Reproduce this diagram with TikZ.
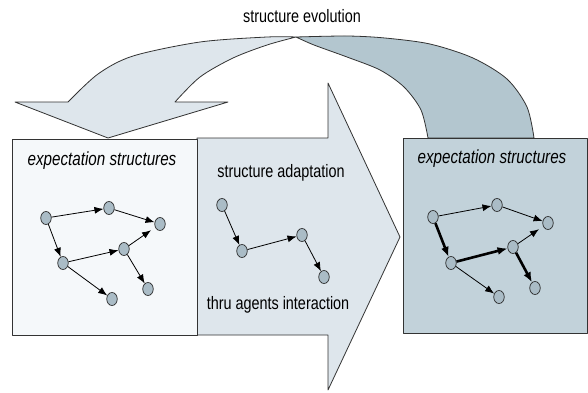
\documentclass[tikz,border=0pt]{standalone}
\usepackage{fontspec}
\setmainfont{Liberation Sans}[FakeStretch=0.8]
\usetikzlibrary{arrows.meta,shapes.geometric}
\definecolor{lightfill}{HTML}{F5F8FA}
\definecolor{midfill}{HTML}{DEE6EC}
\definecolor{darkfill}{HTML}{B3C6CF}
\definecolor{boxfill}{HTML}{C2D2DA}
\definecolor{nodefill}{HTML}{AABCC6}
\tikzset{
	shape line/.style = {draw = black!80, line width = 0.8pt, line join = round},
	graphnode/.style = {ellipse, draw = black!85, line width = 0.7pt, fill = nodefill,
		minimum width = 10.5pt, minimum height = 13pt, inner sep = 0pt},
	link/.style = {line width = 0.8pt, -{Latex[length = 9pt, width = 7pt]}},
	strong/.style = {line width = 2.6pt, -{Latex[length = 10pt, width = 8pt]}},
	txt/.style = {inner sep = 0pt, font = \fontsize{18}{21}\selectfont},
	itxt/.style = {inner sep = 0pt, font = \fontsize{19}{22}\selectfont\itshape}
}
\begin{document}
\begin{tikzpicture}[x = 1pt, y = -1pt]
	\fill[white] (0, 0) rectangle (588, 392);
	% evolution arrow, back part
	\draw[shape line, fill = darkfill]
		plot[smooth] coordinates {(296, 37) (347, 36) (385, 38) (430, 44) (473, 58) (507, 79) (527, 107) (534, 138)}
		-- plot[smooth] coordinates {(428, 138) (421, 110) (404, 87) (380, 70) (347, 57) (314, 45) (296, 37)}
		-- cycle;
	% evolution arrow, front part with head
	\draw[shape line, fill = midfill]
		plot[smooth] coordinates {(296, 37) (267, 37) (200, 42) (133, 56) (98, 74) (68, 102)}
		-- (15, 102) -- (108, 138) -- (228, 102) -- (175, 102)
		-- plot[smooth] coordinates {(175, 102) (200, 77) (233, 58) (267, 45) (296, 37)}
		-- cycle;
	% adaptation arrow
	\draw[shape line, fill = midfill] (197, 138) -- (328, 138) -- (328, 83) -- (400, 237)
		-- (328, 390) -- (328, 335) -- (197, 335) -- cycle;
	% boxes
	\draw[shape line, fill = lightfill] (12, 139) rectangle (197, 335);
	\draw[shape line, fill = boxfill] (403, 138) rectangle (587, 333);
	% texts
	\node[txt] (evo) at (302, 16) {structure evolution};
	\node[itxt] (left) at (102, 161) {expectation structures};
	\node[itxt] (right) at (492, 159) {expectation structures};
	\node[txt] (adapt) at (281, 173) {structure adaptation};
	\node[txt] (thru) at (278, 305) {thru agents interaction};
	% left structure
	\node[graphnode] (a1) at (46, 218) {};
	\node[graphnode] (b1) at (109, 208) {};
	\node[graphnode] (c1) at (160, 224) {};
	\node[graphnode] (d1) at (63, 263) {};
	\node[graphnode] (e1) at (124, 249) {};
	\node[graphnode] (f1) at (148, 289) {};
	\node[graphnode] (g1) at (112, 299) {};
	\draw[link] (a1) -- (b1);
	\draw[link] (b1) -- (c1);
	\draw[link] (a1) -- (d1);
	\draw[link] (d1) -- (e1);
	\draw[link, shorten >= 5pt] (e1) -- (c1);
	\draw[link] (e1) -- (f1);
	\draw[link] (d1) -- (g1);
	% adapted part
	\node[graphnode] (a2) at (222, 205) {};
	\node[graphnode] (d2) at (242, 251) {};
	\node[graphnode] (e2) at (302, 235) {};
	\node[graphnode] (f2) at (324, 277) {};
	\draw[link] (a2) -- (d2);
	\draw[link] (d2) -- (e2);
	\draw[link] (e2) -- (f2);
	% right structure
	\node[graphnode] (a3) at (433, 217) {};
	\node[graphnode] (b3) at (497, 205) {};
	\node[graphnode] (c3) at (548, 223) {};
	\node[graphnode] (d3) at (451, 263) {};
	\node[graphnode] (e3) at (513, 247) {};
	\node[graphnode] (f3) at (535, 288) {};
	\node[graphnode] (g3) at (499, 297) {};
	\draw[link] (a3) -- (b3);
	\draw[link] (b3) -- (c3);
	\draw[strong] (a3) -- (d3);
	\draw[strong] (d3) -- (e3);
	\draw[link, shorten >= 5pt] (e3) -- (c3);
	\draw[strong] (e3) -- (f3);
	\draw[link] (d3) -- (g3);
\end{tikzpicture}
\end{document}
